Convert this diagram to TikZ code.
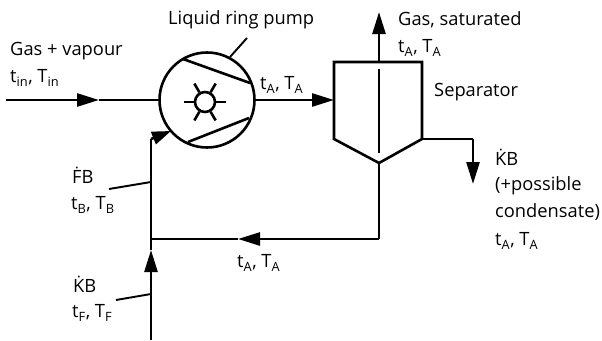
\documentclass[tikz,border=0pt]{standalone}
\usepackage{fontspec}
\setmainfont{Open Sans}
\usetikzlibrary{arrows.meta}
\newcommand{\idx}[1]{\textsubscript{#1}}
\newcommand{\dotover}[1]{\accent"02D9 #1}
\tikzset{
  line/.style={line width=2.6pt},
  flow/.style={line, -{Triangle[length=22pt,width=13pt]}},
  thinline/.style={line width=1.9pt},
  txt/.style={font=\fontsize{18.3}{20}\selectfont, anchor=west, inner sep=0pt},
}
\begin{document}
\begin{tikzpicture}[x=1pt, y=-1pt]
\useasboundingbox (0,0) rectangle (602,340);
% pump
\node[draw, circle, line, minimum size=95pt, inner sep=0pt] (pump) at (207,100) {};
\node[draw, circle, line, minimum size=20pt, inner sep=0pt] (hub) at (205,102) {};
\foreach \a in {0,60,...,300} \draw[line] (hub.\a) -- ++({\a}:10pt);
\coordinate (vaneA) at (183,59);
\coordinate (vaneB) at (250,83);
\coordinate (vaneC) at (188,142);
\coordinate (vaneD) at (249,118);
\draw[line] (vaneA) -- (vaneB);
\draw[line] (vaneC) -- (vaneD);
\node[txt] (pumplabel) at (168,20) {Liquid ring pump};
\coordinate (pumpleadA) at (230,57);
\coordinate (pumpleadB) at (247,38);
\draw[thinline] (pumpleadA) -- (pumpleadB);
% separator
\coordinate (sepTL) at (334,62);
\coordinate (sepTR) at (422,62);
\coordinate (sepBL) at (334,139);
\coordinate (sepBR) at (422,139);
\coordinate (sepTip) at (379,163);
\draw[line] (sepTL) -- (sepTR) -- (sepBR) -- (sepTip) -- (sepBL) -- cycle;
\coordinate (wierA) at (379,69);
\coordinate (wierB) at (379,153);
\draw[line] (wierA) -- (wierB);
% streams
\coordinate (inA) at (6,100);
\coordinate (inB) at (99,100);
\draw[flow] (inA) -- (inB);
\draw[line] (inB) -- (pump.west);
\coordinate (sepIn) at (334,100);
\draw[flow] (pump.east) -- (sepIn);
\coordinate (gasTop) at (379,62);
\coordinate (gasEnd) at (379,12);
\draw[flow] (gasTop) -- (gasEnd);
\coordinate (kbCorner) at (473,139);
\coordinate (kbEnd) at (473,184);
\draw[line] (sepBR) -- (kbCorner);
\draw[flow] (kbCorner) -- (kbEnd);
\coordinate (retCorner) at (379,239);
\coordinate (junction) at (151,239);
\coordinate (retArrow) at (238,239);
\draw[line] (sepTip) -- (retCorner);
\draw[flow] (retCorner) -- (retArrow);
\draw[line] (retArrow) -- (junction);
\coordinate (feedEnd) at (151,340);
\coordinate (feedArrow) at (151,250);
\draw[flow] (feedEnd) -- (feedArrow);
\draw[line] (feedArrow) -- (junction);
\coordinate (loopCorner) at (151,139);
\coordinate (loopEnd) at (171,131);
\draw[line] (junction) -- (loopCorner);
\draw[line, -{Triangle[length=19pt,width=13pt]}] (loopCorner) -- (loopEnd);
% leaders
\coordinate (fbA) at (109,189);
\coordinate (fbB) at (151,182);
\draw[thinline] (fbA) -- (fbB);
\coordinate (kbA) at (116,300);
\coordinate (kbB) at (151,294);
\draw[thinline] (kbA) -- (kbB);
% labels
\node[txt] (gasin) at (10,51) {Gas + vapour};
\node[txt] (tin) at (10,78) {t\idx{in}, T\idx{in}};
\node[txt] (tout) at (260,85) {t\idx{A}, T\idx{A}};
\node[txt] (gassat) at (398,20) {Gas, saturated};
\node[txt] (tsat) at (398,48) {t\idx{A}, T\idx{A}};
\node[txt] (seplabel) at (434,92) {Separator};
\node[txt] (kbout) at (495,157) {\dotover{K}B};
\node[txt] (cond1) at (495,186) {(+possible};
\node[txt] (cond2) at (495,212) {condensate)};
\node[txt] (tcond) at (495,241) {t\idx{A}, T\idx{A}};
\node[txt] (tret) at (237,263) {t\idx{A}, T\idx{A}};
\node[txt] (fb) at (72,175) {\dotover{F}B};
\node[txt] (tb) at (71,205) {t\idx{B}, T\idx{B}};
\node[txt] (kbin) at (73,284) {\dotover{K}B};
\node[txt] (tf) at (72,313) {t\idx{F}, T\idx{F}};
\end{tikzpicture}
\end{document}
